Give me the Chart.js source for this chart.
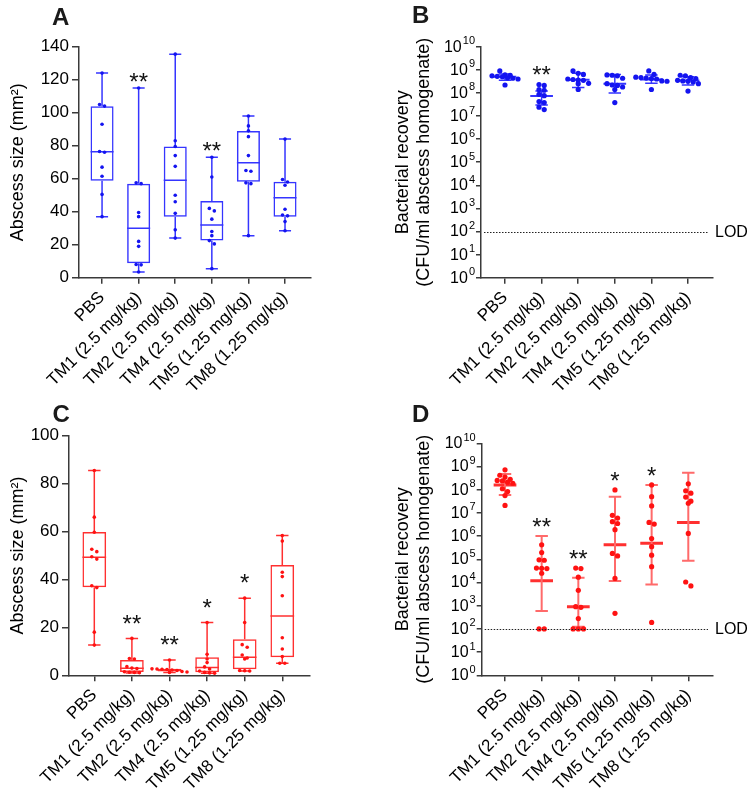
<!DOCTYPE html>
<html><head><meta charset="utf-8">
<script src="https://cdn.jsdelivr.net/npm/chart.js@4.4.1/dist/chart.umd.min.js"></script>
<style>
html,body{margin:0;padding:0;background:#fff;}
#wrap{position:relative;width:750px;height:800px;overflow:hidden;}
canvas{position:absolute;}
</style></head><body>
<div id="wrap">
<canvas id="cA" width="375" height="400" style="left:0;top:0"></canvas>
<canvas id="cB" width="375" height="400" style="left:375px;top:0"></canvas>
<canvas id="cC" width="375" height="400" style="left:0;top:400px"></canvas>
<canvas id="cD" width="375" height="400" style="left:375px;top:400px"></canvas>
</div>
<script>
// ---------------- DATA ----------------
const categories = ['PBS', 'TM1 (2.5 mg/kg)', 'TM2 (2.5 mg/kg)', 'TM4 (2.5 mg/kg)', 'TM5 (1.25 mg/kg)', 'TM8 (1.25 mg/kg)'];
const yTicksA = [0, 20, 40, 60, 80, 100, 120, 140];
const yTicksC = [0, 20, 40, 60, 80, 100];
const logExps = [0, 1, 2, 3, 4, 5, 6, 7, 8, 9, 10];
const LOD = 100;

// Panel A: abscess size (mm²)
const pointsA = [
  [124, 105, 104, 93, 76.5, 76, 67, 61.5, 50.5, 37],
  [115, 57.5, 57, 39.5, 37, 22, 19, 8, 7.8, 3.5],
  [135.5, 83, 79.5, 74, 67.5, 50, 46, 39, 29, 24],
  [73, 61, 42, 40.5, 35.5, 28, 25.5, 22.5, 20.5, 5.5],
  [98, 92, 89, 85.5, 74, 65, 64.5, 57.5, 57, 25.5],
  [84, 59.5, 58, 56, 41.5, 38, 37.5, 34, 28.5]
];
const minA = [37, 3.5, 24, 5.5, 25.5, 28.5];
const q1A  = [58.8, 8.7, 37, 22.5, 58.2, 37];
const medA = [76.3, 30, 59, 32, 69.7, 48.5];
const q3A  = [103.9, 57, 79.5, 46.5, 88.9, 58.2];
const maxA = [124, 115, 135.5, 73, 98, 84];
const sigA = ['', '**', '', '**', '', ''];

// Panel B: bacterial recovery (CFU/ml)
const pointsB = [
  [8.9e8, 6.0e8, 5.8e8, 5.5e8, 5.2e8, 5.0e8, 4.5e8, 4.3e8, 4.0e8, 2.2e8],
  [2.3e8, 2.1e8, 1.4e8, 1.3e8, 8.7e7, 7.6e7, 4.2e7, 3.8e7, 2.4e7, 1.9e7],
  [8.9e8, 7.1e8, 6.3e8, 4.0e8, 3.8e8, 3.6e8, 3.5e8, 2.6e8, 2.5e8, 1.4e8],
  [6.0e8, 5.8e8, 5.5e8, 4.3e8, 2.5e8, 2.2e8, 2.1e8, 1.8e8, 1.4e8, 3.8e7],
  [8.9e8, 6.3e8, 4.8e8, 4.6e8, 4.4e8, 4.2e8, 4.0e8, 3.3e8, 3.2e8, 1.4e8],
  [5.8e8, 5.5e8, 4.6e8, 4.2e8, 3.5e8, 3.3e8, 3.2e8, 3.0e8, 2.5e8, 1.2e8]
];
const meanB = [5.0e8, 7.4e7, 3.7e8, 2.5e8, 3.8e8, 3.4e8];
const sdHiB = [6.6e8, 1.2e8, 7.1e8, 6.3e8, 6.0e8, 5.0e8];
const sdLoB = [3.5e8, 3.0e7, 1.7e8, 1.0e8, 2.6e8, 2.2e8];
const sigB = ['', '**', '', '', '', ''];

// Panel C: abscess size (mm²)
const pointsC = [
  [85.5, 66, 59.7, 52.6, 51.6, 49.5, 48.5, 37.4, 36.6, 18, 12.6],
  [15.4, 7, 6.8, 3.6, 3, 2.8, 1.5, 1.3, 1.2, 1.1],
  [6.4, 2.7, 2.6, 2.5, 2.4, 2.2, 2.0, 1.6, 1.4, 1.2],
  [22, 8.8, 6.8, 5.3, 3.5, 2.6, 1.8, 1.2, 1.0, 0.9],
  [32.2, 22, 12.8, 11.7, 8.5, 7.2, 6.8, 2, 1.9, 1.8],
  [58.3, 56, 43, 41.2, 33.2, 15.7, 11, 7.8, 5, 5]
];
const minC = [12.6, 1.0, 1.2, 0.9, 1.8, 5];
const q1C  = [36.7, 1.4, 1.6, 1.3, 2.5, 7.5];
const medC = [49.3, 2.9, 2.1, 3.3, 7.5, 24.7];
const q3C  = [59.8, 6.4, 2.7, 7.5, 15, 46];
const maxC = [85.5, 15.4, 6.4, 22, 32.2, 58.3];
const sigC = ['', '**', '**', '*', '*', ''];

// Panel D: bacterial recovery (CFU/ml)
const pointsD = [
  [7.2e8, 4.2e8, 3.5e8, 2.8e8, 2.5e8, 2.4e8, 2.1e8, 1.9e8, 1.1e8, 8.3e7, 5.6e7, 2.1e7],
  [4.2e5, 1.95e5, 9.5e4, 9.1e4, 4.2e4, 4.1e4, 4.0e4, 2.5e4, 100, 100],
  [4.2e4, 4.0e4, 1.7e4, 4.6e3, 9.1e2, 8.5e2, 2.8e2, 100, 100, 100],
  [9.8e7, 7.9e6, 6.0e6, 4.2e6, 3.5e6, 1.9e6, 1.8e5, 1.4e5, 1.5e4, 4.7e2],
  [1.6e8, 5.0e7, 2.0e7, 3.9e6, 3.3e6, 7.9e5, 3.5e5, 1.5e5, 4.8e4, 1.9e2],
  [1.8e8, 8.9e7, 7.1e7, 4.8e7, 3.2e7, 2.6e7, 1.3e6, 1.05e4, 7.1e3]
];
const meanD = [1.6e8, 1.2e4, 9.1e2, 4.2e5, 4.9e5, 3.9e6];
const sdHiD = [4.8e8, 1.0e6, 1.6e4, 5.0e7, 1.6e8, 5.4e8];
const sdLoD = [5.9e7, 5.9e2, 1.25e2, 1.15e4, 8.3e3, 8.7e4];
const sigD = ['', '**', '**', '*', '*', ''];

// ---------------- STYLE / HELPERS ----------------
const FONT = "'Liberation Sans', Arial, Helvetica, sans-serif";
const AXIS = '#3a3a3a';

function segData(pairs) {
  const out = [];
  pairs.forEach(([a, b]) => { out.push({x: a[0], y: a[1]}, {x: b[0], y: b[1]}, {x: b[0], y: null}); });
  return out;
}
function lineDs(pairs, color, width, order) {
  return {type: 'line', data: segData(pairs), borderColor: color, borderWidth: width, pointRadius: 0,
    pointHoverRadius: 0, fill: false, spanGaps: false, tension: 0, order, borderCapStyle: 'butt'};
}
function pointsDs(groups, color, r) {
  return {type: 'scatter', data: groups.flatMap((vals, g) => vals.map(v => ({x: g, y: v}))),
    pointRadius: r, pointHoverRadius: r, pointBackgroundColor: color, pointBorderColor: color,
    pointBorderWidth: 0, showLine: false, order: 0};
}
function boxDatasets(pts, mn, q1, md, q3, mx, lineColor, ptColor, ptR) {
  const BOX = 0.63, CAP = 0.165;
  const med = md.map((m, i) => [[i - BOX / 2, m], [i + BOX / 2, m]]);
  const wh = [];
  mn.forEach((v, i) => {
    wh.push([[i, q3[i]], [i, mx[i]]], [[i, q1[i]], [i, v]]);
    wh.push([[i - CAP, mx[i]], [i + CAP, mx[i]]], [[i - CAP, v], [i + CAP, v]]);
  });
  return [
    pointsDs(pts, ptColor, ptR),
    lineDs(med, lineColor, 1.5, 1),
    lineDs(wh, lineColor, 1.5, 1),
    {type: 'bar', data: q1.map((v, i) => ({x: i, y: [v, q3[i]]})), backgroundColor: 'rgba(0,0,0,0)',
      borderColor: lineColor, borderWidth: 1.5, borderSkipped: false, barPercentage: BOX,
      categoryPercentage: 1, order: 2}
  ];
}
function meanSdDatasets(pts, mean, hi, lo, meanColor, errColor, ptColor, ptR, meanW, errW) {
  const MH = 0.31, CAP = 0.17;
  const ml = mean.map((m, i) => [[i - MH, m], [i + MH, m]]);
  const er = [];
  mean.forEach((m, i) => {
    er.push([[i, lo[i]], [i, hi[i]]]);
    er.push([[i - CAP, hi[i]], [i + CAP, hi[i]]], [[i - CAP, lo[i]], [i + CAP, lo[i]]]);
  });
  return [
    pointsDs(pts, ptColor, ptR),
    lineDs(er, errColor, errW, 1),
    lineDs(ml, meanColor, meanW, 1)
  ];
}
function xScale(min, max, h) {
  return {
    type: 'linear', min, max, bounds: 'data', offset: false,
    afterBuildTicks: s => { s.ticks = categories.map((_, i) => ({value: i})); },
    afterFit: s => { s.height = h; },
    ticks: {autoSkip: false, minRotation: 45, maxRotation: 45, color: '#000', padding: 4,
      font: {family: FONT, size: 17}, callback: v => categories[v]},
    grid: {drawOnChartArea: false, drawTicks: true, tickLength: 6, color: AXIS, lineWidth: 1.5, offset: false},
    border: {display: true, color: AXIS, width: 1.5}
  };
}
function yLinear(ticks, w, title) {
  return {
    type: 'linear', min: ticks[0], max: ticks[ticks.length - 1], bounds: 'data',
    afterBuildTicks: s => { s.ticks = ticks.map(v => ({value: v})); },
    afterFit: s => { s.width = w; },
    ticks: {color: '#000', padding: 3, font: {family: FONT, size: 17}, callback: v => String(v)},
    grid: {drawOnChartArea: false, drawTicks: true, tickLength: 7, color: AXIS, lineWidth: 1.5},
    border: {display: true, color: AXIS, width: 1.5},
    title: {display: true, text: title, color: '#000', font: {family: FONT, size: 18, lineHeight: 1.2}, padding: {top: 7, bottom: 0}}
  };
}
function yLog(w, title) {
  return {
    type: 'logarithmic', min: 10 ** logExps[0], max: 10 ** logExps[logExps.length - 1], bounds: 'data',
    afterBuildTicks: s => { s.ticks = logExps.map(e => ({value: 10 ** e})); },
    afterFit: s => { s.width = w; },
    // labels (10 with a raised exponent) are drawn by the annotation plugin
    ticks: {display: false},
    grid: {drawOnChartArea: false, drawTicks: true, tickLength: 5, color: AXIS, lineWidth: 1.5},
    border: {display: true, color: AXIS, width: 1.5},
    title: {display: true, text: title, color: '#000', font: {family: FONT, size: 18, lineHeight: 1.2}, padding: {top: 17, bottom: 0}}
  };
}
function annotPlugin(letter, lx, ly, sig, tops, gap, isLog) {
  return {
    id: 'annot' + letter,
    afterDraw(chart) {
      const ctx = chart.ctx, xs = chart.scales.x, ys = chart.scales.y, ca = chart.chartArea;
      ctx.save();
      ctx.fillStyle = '#1a1a1a';
      ctx.font = 'bold 24px ' + FONT;
      ctx.textAlign = 'left'; ctx.textBaseline = 'alphabetic';
      ctx.fillText(letter, lx, ly);
      const fs = 24;
      ctx.font = fs + 'px ' + FONT;
      ctx.textAlign = 'center';
      ctx.fillStyle = '#111';
      sig.forEach((s, i) => {
        if (!s) return;
        const x = xs.getPixelForValue(i);
        const y = ys.getPixelForValue(tops[i]) - gap + 0.59 * fs;
        ctx.fillText(s, x, y);
      });
      if (isLog) {
        // power-of-ten tick labels
        ctx.fillStyle = '#000';
        ctx.textBaseline = 'middle';
        logExps.forEach(e => {
          const y = ys.getPixelForValue(10 ** e);
          const right = ys.right - 5 - 1;
          ctx.font = '11px ' + FONT;
          const es = String(e), ew = ctx.measureText(es).width;
          ctx.textAlign = 'left';
          ctx.fillText(es, right - ew, y - 5.5);
          ctx.font = '16px ' + FONT;
          ctx.textAlign = 'right';
          ctx.fillText('10', right - ew - 1, y + 0.5);
        });
        // limit of detection
        const y = Math.round(ys.getPixelForValue(LOD)) + 0.5;
        ctx.strokeStyle = '#222'; ctx.lineWidth = 1; ctx.setLineDash([1.5, 1.5]);
        ctx.beginPath(); ctx.moveTo(ca.left + 3, y); ctx.lineTo(ca.right - 5, y); ctx.stroke();
        ctx.setLineDash([]);
        ctx.font = '16px ' + FONT; ctx.textAlign = 'left'; ctx.textBaseline = 'middle';
        ctx.fillText('LOD', ca.right + 2, y);
      }
      ctx.restore();
    }
  };
}
function swarm(chart, dsIndex, groups, step, binH) {
  const xs = chart.scales.x, ys = chart.scales.y;
  const unit = xs.getPixelForValue(1) - xs.getPixelForValue(0);
  const out = [];
  groups.forEach((vals, g) => {
    const items = vals.map(v => ({v, py: ys.getPixelForValue(v)})).sort((a, b) => a.py - b.py);
    const rows = []; let row = [];
    items.forEach(it => {
      if (row.length && it.py - row[0].py >= binH) { rows.push(row); row = []; }
      row.push(it);
    });
    if (row.length) rows.push(row);
    rows.forEach(r => r.forEach((it, j) => out.push({x: g + (j - (r.length - 1) / 2) * step / unit, y: it.v})));
  });
  chart.data.datasets[dsIndex].data = out;
}
function makeChart(id, datasets, scales, pad, plugin) {
  return new Chart(document.getElementById(id), {
    type: 'scatter',
    data: {datasets},
    options: {
      responsive: false, animation: false, devicePixelRatio: 1,
      layout: {padding: pad},
      plugins: {legend: {display: false}, tooltip: {enabled: false}},
      events: [],
      scales
    },
    plugins: [plugin]
  });
}

// ---------------- BUILD ----------------
const BLUE_LINE = '#3535ff', BLUE_PT = '#1414f0';
const RED_LINE = '#ff3030', RED_PT = '#ff1212', RED_ERR = '#ff6a6a';
const TITLE_B = ['Bacterial recovery', '(CFU/ml abscess homogenate)'];

const chartA = makeChart('cA',
  boxDatasets(pointsA, minA, q1A, medA, q3A, maxA, BLUE_LINE, BLUE_PT, 1.8),
  {x: xScale(-0.63, 5.71, 122.3), y: yLinear(yTicksA, 79, 'Abscess size (mm\u00B2)')},
  {top: 46.7, right: 64, left: 0, bottom: 0},
  annotPlugin('A', 52, 25, sigA, maxA, 12, false));

const topsB = pointsB.map((p, i) => Math.max(sdHiB[i], ...p));
const chartB = makeChart('cB',
  meanSdDatasets(pointsB, meanB, sdHiB, sdLoB, BLUE_LINE, BLUE_LINE, BLUE_PT, 2.6, 2, 1.5),
  {x: xScale(-0.656, 5.683, 122.3), y: yLog(106, TITLE_B)},
  {top: 46.7, right: 37, left: 0, bottom: 0},
  annotPlugin('B', 37, 23, sigB, topsB, 15.5, true));

const chartC = makeChart('cC',
  boxDatasets(pointsC, minC, q1C, medC, q3C, maxC, RED_LINE, RED_PT, 1.8),
  {x: xScale(-0.673, 5.737, 124.7), y: yLinear(yTicksC, 69, 'Abscess size (mm\u00B2)')},
  {top: 35.7, right: 65, left: 0, bottom: 0},
  annotPlugin('C', 52.5, 22, sigC, maxC, 21, false));

const topsD = pointsD.map((p, i) => Math.max(sdHiD[i], ...p));
const chartD = makeChart('cD',
  meanSdDatasets(pointsD, meanD, sdHiD, sdLoD, RED_LINE, RED_ERR, RED_PT, 2.6, 3, 2),
  {x: xScale(-0.636, 5.674, 124.7), y: yLog(106.7, TITLE_B)},
  {top: 43.3, right: 37, left: 0, bottom: 0},
  annotPlugin('D', 37, 22, sigD, topsD, 15, true));

swarm(chartA, 0, pointsA, 5, 3.5); chartA.update('none');
swarm(chartB, 0, pointsB, 5.2, 4.5); chartB.update('none');
swarm(chartC, 0, pointsC, 5, 3.5); chartC.update('none');
swarm(chartD, 0, pointsD, 5.2, 4.5); chartD.update('none');
</script>
</body></html>
